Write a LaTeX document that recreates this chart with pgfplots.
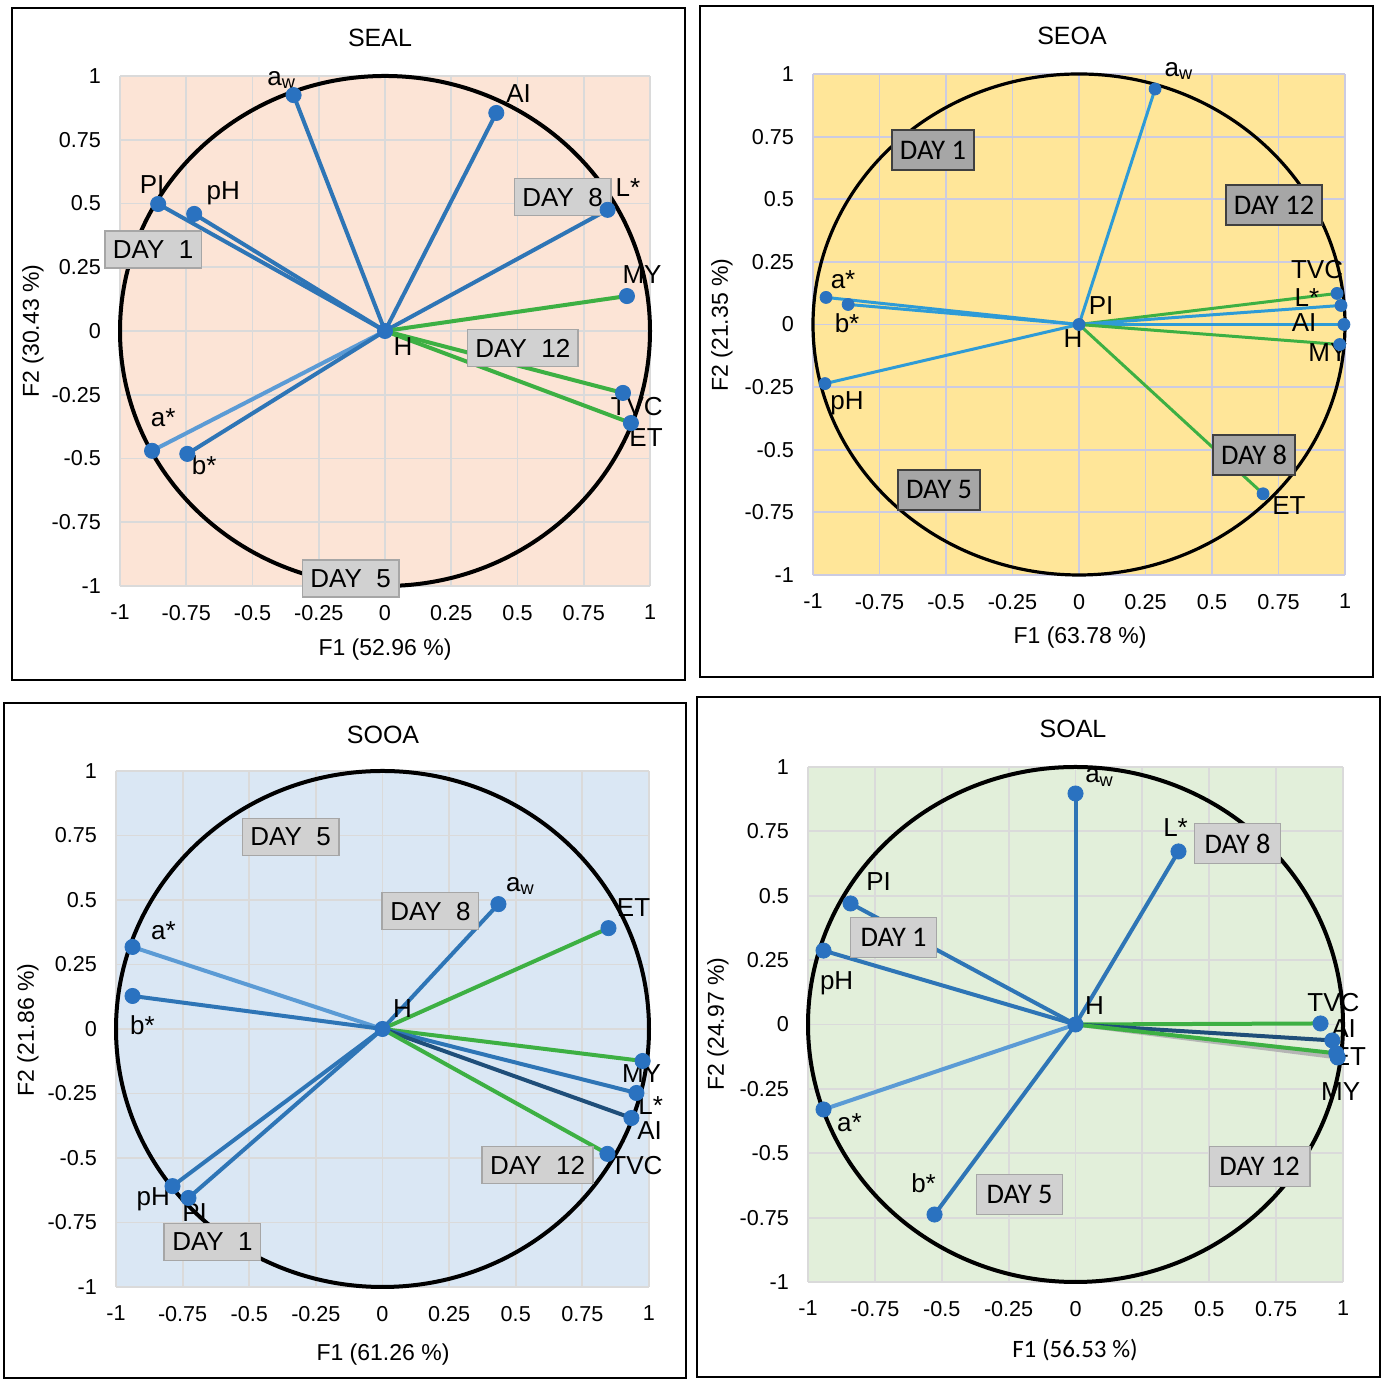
\documentclass[border=0pt]{standalone}
\usepackage{pgfplots}
\pgfplotsset{compat=1.18}
\usepackage{fontspec}
\setmainfont{Liberation Sans}
\newfontfamily\calib{Carlito}
\definecolor{bgA}{HTML}{FCE4D6}
\definecolor{bgB}{HTML}{FFE699}
\definecolor{bgC}{HTML}{DAE7F4}
\definecolor{bgD}{HTML}{E2EFDA}
\definecolor{gridA}{HTML}{DADADA}
\definecolor{gridB}{HTML}{CBCBE2}
\definecolor{bl}{HTML}{2E75B6}
\definecolor{lbl}{HTML}{5B9BD5}
\definecolor{sky}{HTML}{2E9BD6}
\definecolor{gr}{HTML}{3DB043}
\definecolor{navy}{HTML}{1F4E79}
\definecolor{gy}{HTML}{B5B5B5}
\definecolor{dot}{HTML}{2A72C0}
\pgfplotsset{
  pca/.style={scale only axis, anchor=south west,
    xmin=-1,xmax=1,ymin=-1,ymax=1,
    xtick={-1,-0.75,-0.5,-0.25,0,0.25,0.5,0.75,1},
    ytick={-1,-0.75,-0.5,-0.25,0,0.25,0.5,0.75,1},
    xticklabels={-1,-0.75,-0.5,-0.25,0,0.25,0.5,0.75,1},
    yticklabels={-1,-0.75,-0.5,-0.25,0,0.25,0.5,0.75,1},
    grid=major, axis line style={draw=none}, major tick length=0pt,
    clip=false,
    ticklabel style={font=\fontsize{10.8}{13}\selectfont},
    xticklabel style={yshift=-6pt},
    yticklabel style={xshift=-6pt}},
  vec/.style={line width=2pt, no marks},
  dots/.style={only marks, mark=*, mark size=3.8pt, color=dot, mark options={draw=dot, fill=dot}},
}
\tikzset{
  lab/.style={font=\fontsize{13}{15}\selectfont, inner sep=0pt},
  dayA/.style={fill=black!18, draw=black!35, line width=0.8pt, font=\fontsize{13}{15}\selectfont, minimum height=18.5pt, inner xsep=4pt},
  dayB/.style={fill=black!35, draw=black!75, line width=0.9pt, font=\calib\fontsize{14.2}{16}\selectfont, minimum height=20pt, inner xsep=4pt},
  dayD/.style={fill=black!18, draw=black!35, line width=0.8pt, font=\calib\fontsize{14.2}{16}\selectfont, minimum height=20pt, inner xsep=5pt},
  ttl/.style={font=\fontsize{12.5}{15}\selectfont},
  axl/.style={font=\fontsize{11.5}{14}\selectfont},
}
\begin{document}
\begin{tikzpicture}
\path (0,0) rectangle (693pt,689.5pt);
% ---------------- Panel 1: SEAL ----------------
\begin{axis}[pca, at={(60pt,396.5pt)}, width=265pt, height=255pt,
  axis background/.style={fill=bgA}, major grid style={gridA, line width=0.9pt}]
\draw[black, line width=2pt] (axis cs:0,0) ellipse [x radius=1, y radius=1];
\addplot[vec, bl] coordinates {(0,0) (-0.345,0.925)};
\addplot[vec, bl] coordinates {(0,0) (0.42,0.855)};
\addplot[vec, bl] coordinates {(0,0) (-0.856,0.498)};
\addplot[vec, bl] coordinates {(0,0) (-0.72,0.459)};
\addplot[vec, bl] coordinates {(0,0) (0.84,0.475)};
\addplot[vec, gr] coordinates {(0,0) (0.913,0.137)};
\addplot[vec, gr] coordinates {(0,0) (0.898,-0.243)};
\addplot[vec, gr] coordinates {(0,0) (0.928,-0.361)};
\addplot[vec, lbl] coordinates {(0,0) (-0.879,-0.47)};
\addplot[vec, bl] coordinates {(0,0) (-0.746,-0.482)};
\addplot[dots] coordinates {(-0.345,0.925) (0.42,0.855) (-0.856,0.498) (-0.72,0.459) (0.84,0.475) (0.913,0.137) (0.898,-0.243) (0.928,-0.361) (-0.879,-0.47) (-0.746,-0.482) (0,0)};
\node[lab] at (axis cs:-0.39,0.984) {a\textsubscript{w}};
\node[lab] at (axis cs:0.504,0.933) {AI};
\node[lab] at (axis cs:-0.879,0.573) {PI};
\node[lab] at (axis cs:-0.61,0.541) {pH};
\node[lab] at (axis cs:0.917,0.561) {L*};
\node[lab] at (axis cs:0.97,0.22) {MY};
\node[lab] at (axis cs:0.95,-0.298) {TVC};
\node[lab] at (axis cs:0.985,-0.416) {ET};
\node[lab] at (axis cs:-0.837,-0.341) {a*};
\node[lab] at (axis cs:-0.682,-0.525) {b*};
\node[lab] at (axis cs:0.068,-0.063) {H};
\node[dayA] at (axis cs:-0.875,0.32) {DAY\ \ 1};
\node[dayA] at (axis cs:0.67,0.525) {DAY\ \ 8};
\node[dayA] at (axis cs:0.52,-0.067) {DAY\ \ 12};
\node[dayA] at (axis cs:-0.13,-0.97) {DAY\ \ 5};
\end{axis}
\node[ttl] at (190pt,670.5pt) {SEAL};
\node[axl] at (192.5pt,364.5pt) {F1 (52.96 \%)};
\node[axl, rotate=90] at (16.5pt,524pt) {F2 (30.43 \%)};
\draw[black, line width=1.2pt] (6pt,349.5pt) rectangle (342.5pt,685.5pt);
% ---------------- Panel 2: SEOA ----------------
\begin{axis}[pca, at={(406.5pt,402pt)}, width=266pt, height=250.5pt,
  axis background/.style={fill=bgB}, major grid style={gridB, line width=0.9pt}]
\draw[black, line width=1.6pt] (axis cs:0,0) ellipse [x radius=1, y radius=1];
\addplot[vec, sky, line width=1.5pt] coordinates {(0,0) (0.286,0.94)};
\addplot[vec, sky, line width=1.5pt] coordinates {(0,0) (-0.951,0.108)};
\addplot[vec, sky, line width=1.5pt] coordinates {(0,0) (-0.868,0.08)};
\addplot[vec, sky, line width=1.5pt] coordinates {(0,0) (-0.955,-0.236)};
\addplot[vec, gr, line width=1.5pt] coordinates {(0,0) (0.97,0.124)};
\addplot[vec, sky, line width=1.5pt] coordinates {(0,0) (0.985,0.076)};
\addplot[vec, sky, line width=1.5pt] coordinates {(0,0) (0.996,0.0)};
\addplot[vec, gr, line width=1.5pt] coordinates {(0,0) (0.98,-0.08)};
\addplot[vec, gr, line width=1.5pt] coordinates {(0,0) (0.692,-0.676)};
\addplot[dots, mark size=3pt] coordinates {(0.286,0.94) (-0.951,0.108) (-0.868,0.08) (-0.955,-0.236) (0.97,0.124) (0.985,0.076) (0.996,0.0) (0.98,-0.08) (0.692,-0.676) (0,0)};
\node[lab] at (axis cs:0.376,1.012) {a\textsubscript{w}};
\node[lab] at (axis cs:0.083,0.076) {PI};
\node[lab] at (axis cs:-0.023,-0.056) {H};
\node[lab] at (axis cs:-0.887,0.18) {a*};
\node[lab] at (axis cs:-0.872,0.004) {b*};
\node[lab] at (axis cs:-0.872,-0.316) {pH};
\node[lab] at (axis cs:0.895,0.22) {TVC};
\node[lab] at (axis cs:0.857,0.108) {L*};
\node[lab] at (axis cs:0.846,0.008) {AI};
\node[lab] at (axis cs:0.936,-0.112) {MY};
\node[lab] at (axis cs:0.789,-0.724) {ET};
\node[dayB] at (axis cs:-0.549,0.696) {DAY 1};
\node[dayB] at (axis cs:0.733,0.476) {DAY 12};
\node[dayB] at (axis cs:0.658,-0.52) {DAY 8};
\node[dayB] at (axis cs:-0.526,-0.66) {DAY 5};
\end{axis}
\node[ttl] at (536pt,671.5pt) {SEOA};
\node[axl] at (540pt,370.5pt) {F1 (63.78 \%)};
\node[axl, rotate=90] at (361pt,527pt) {F2 (21.35 \%)};
\draw[black, line width=1pt] (350pt,351pt) rectangle (686.5pt,686.5pt);
% ---------------- Panel 3: SOOA ----------------
\begin{axis}[pca, at={(58pt,46pt)}, width=266.5pt, height=258pt,
  axis background/.style={fill=bgC}, major grid style={gridA, line width=0.9pt}]
\draw[black, line width=2pt] (axis cs:0,0) ellipse [x radius=1, y radius=1];
\addplot[vec, bl] coordinates {(0,0) (0.435,0.484)};
\addplot[vec, gr] coordinates {(0,0) (0.848,0.391)};
\addplot[vec, lbl] coordinates {(0,0) (-0.938,0.318)};
\addplot[vec, bl] coordinates {(0,0) (-0.938,0.128)};
\addplot[vec, gr] coordinates {(0,0) (0.976,-0.124)};
\addplot[vec, bl] coordinates {(0,0) (0.953,-0.248)};
\addplot[vec, navy] coordinates {(0,0) (0.934,-0.345)};
\addplot[vec, gr] coordinates {(0,0) (0.844,-0.484)};
\addplot[vec, bl] coordinates {(0,0) (-0.788,-0.609)};
\addplot[vec, bl] coordinates {(0,0) (-0.728,-0.655)};
\addplot[dots] coordinates {(0.435,0.484) (0.848,0.391) (-0.938,0.318) (-0.938,0.128) (0.976,-0.124) (0.953,-0.248) (0.934,-0.345) (0.844,-0.484) (-0.788,-0.609) (-0.728,-0.655) (0,0)};
\node[dayA] at (axis cs:-0.638,-0.825) {DAY\ \ 1};
\node[dayA] at (axis cs:-0.345,0.744) {DAY\ \ 5};
\node[dayA] at (axis cs:0.18,0.457) {DAY\ \ 8};
\node[dayA] at (axis cs:0.582,-0.527) {DAY\ \ 12};
\node[lab] at (axis cs:0.518,0.554) {a\textsubscript{w}};
\node[lab] at (axis cs:0.942,0.469) {ET};
\node[lab] at (axis cs:-0.822,0.38) {a*};
\node[lab] at (axis cs:-0.901,0.016) {b*};
\node[lab] at (axis cs:0.075,0.078) {H};
\node[lab] at (axis cs:0.972,-0.171) {MY};
\node[lab] at (axis cs:1.006,-0.298) {L*};
\node[lab] at (axis cs:1.002,-0.395) {AI};
\node[lab] at (axis cs:0.953,-0.531) {TVC};
\node[lab] at (axis cs:-0.86,-0.66) {pH};
\node[lab] at (axis cs:-0.705,-0.71) {PI};
\end{axis}
\node[ttl] at (191.5pt,322pt) {SOOA};
\node[axl] at (191.5pt,12pt) {F1 (61.26 \%)};
\node[axl, rotate=90] at (14pt,174.5pt) {F2 (21.86 \%)};
\draw[black, line width=1.2pt] (2pt,0.6pt) rectangle (343pt,338pt);
% ---------------- Panel 4: SOAL ----------------
\begin{axis}[pca, at={(404pt,48.5pt)}, width=267.5pt, height=257.5pt,
  axis background/.style={fill=bgD}, major grid style={gridA, line width=0.9pt}]
\draw[black, line width=2pt] (axis cs:0,0) ellipse [x radius=1, y radius=1];
\addplot[vec, bl] coordinates {(0,0) (0,0.897)};
\addplot[vec, bl] coordinates {(0,0) (0.385,0.672)};
\addplot[vec, bl] coordinates {(0,0) (-0.841,0.47)};
\addplot[vec, bl] coordinates {(0,0) (-0.942,0.287)};
\addplot[vec, lbl] coordinates {(0,0) (-0.942,-0.33)};
\addplot[vec, bl] coordinates {(0,0) (-0.527,-0.738)};
\addplot[vec, gy] coordinates {(0,0) (0.98,-0.128)};
\addplot[vec, gr] coordinates {(0,0) (0.916,0.004)};
\addplot[vec, navy] coordinates {(0,0) (0.96,-0.062)};
\addplot[vec, gr] coordinates {(0,0) (0.975,-0.112)};
\addplot[dots] coordinates {(0,0.897) (0.385,0.672) (-0.841,0.47) (-0.942,0.287) (-0.942,-0.33) (-0.527,-0.738) (0.98,-0.128) (0.916,0.004) (0.96,-0.062) (0.975,-0.112) (0,0)};
\node[lab] at (axis cs:0.09,0.959) {a\textsubscript{w}};
\node[lab] at (axis cs:0.374,0.765) {L*};
\node[lab] at (axis cs:-0.736,0.555) {PI};
\node[lab] at (axis cs:-0.893,0.159) {pH};
\node[lab] at (axis cs:-0.845,-0.381) {a*};
\node[lab] at (axis cs:-0.568,-0.617) {b*};
\node[lab] at (axis cs:0.071,0.074) {H};
\node[lab] at (axis cs:0.964,0.085) {TVC};
\node[lab] at (axis cs:1.002,-0.016) {AI};
\node[lab] at (axis cs:1.024,-0.124) {ET};
\node[lab] at (axis cs:0.991,-0.26) {MY};
\node[dayD] at (axis cs:0.606,0.703) {DAY 8};
\node[dayD] at (axis cs:-0.68,0.338) {DAY 1};
\node[dayD] at (axis cs:0.688,-0.551) {DAY 12};
\node[dayD] at (axis cs:-0.209,-0.66) {DAY 5};
\end{axis}
\node[ttl] at (536.5pt,325pt) {SOAL};
\node[axl, font=\calib\fontsize{12.5}{15}\selectfont] at (537.5pt,14.5pt) {F1 (56.53 \%)};
\node[axl, rotate=90] at (359pt,177.5pt) {F2 (24.97 \%)};
\draw[black, line width=1pt] (348.5pt,1pt) rectangle (690pt,341pt);
\end{tikzpicture}
\end{document}
